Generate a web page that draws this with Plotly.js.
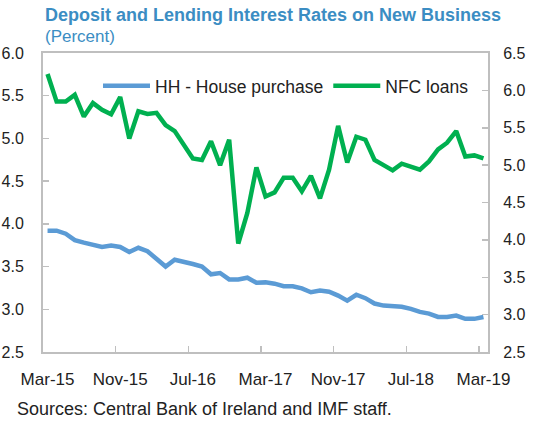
<!DOCTYPE html>
<html>
<head>
<meta charset="utf-8">
<script src="https://cdn.plot.ly/plotly-3.0.1.min.js"></script>
<style>html,body{margin:0;padding:0;background:#fff;}#chart{width:537px;height:423px;}</style>
</head>
<body>
<div id="chart"></div>
<script>
// Monthly, Mar-2015 .. Mar-2019
const months = ["Mar-15","Apr-15","May-15","Jun-15","Jul-15","Aug-15","Sep-15","Oct-15","Nov-15","Dec-15",
"Jan-16","Feb-16","Mar-16","Apr-16","May-16","Jun-16","Jul-16","Aug-16","Sep-16","Oct-16","Nov-16","Dec-16",
"Jan-17","Feb-17","Mar-17","Apr-17","May-17","Jun-17","Jul-17","Aug-17","Sep-17","Oct-17","Nov-17","Dec-17",
"Jan-18","Feb-18","Mar-18","Apr-18","May-18","Jun-18","Jul-18","Aug-18","Sep-18","Oct-18","Nov-18","Dec-18",
"Jan-19","Feb-19","Mar-19"];
const hhHouse = [3.92,3.92,3.885,3.81,3.78,3.75,3.73,3.745,3.73,3.67,3.72,3.68,3.59,3.50,3.58,3.56,3.53,3.50,3.41,3.425,3.35,3.35,3.37,3.31,3.315,
3.30,3.27,3.27,3.245,3.20,3.22,3.205,3.16,3.10,3.17,3.13,3.067,3.043,3.043,3.03,3.005,2.97,2.95,2.91,2.91,2.927,2.888,2.888,2.91];
const nfcLoans = [6.22,5.85,5.85,5.94,5.65,5.83,5.74,5.68,5.91,5.355,5.72,5.685,5.70,5.535,5.455,5.27,5.09,5.07,5.32,5.00,5.34,3.95,4.36,4.97,4.58,
4.635,4.83,4.83,4.65,4.857,4.555,4.94,5.525,5.035,5.38,5.34,5.07,5.00,4.93,5.02,4.98,4.94,5.05,5.21,5.30,5.455,5.115,5.13,5.09];
const tickLabels = ["Mar-15","Nov-15","Jul-16","Mar-17","Nov-17","Jul-18","Mar-19"];
const leftTicks = [2.5,3.0,3.5,4.0,4.5,5.0,5.5,6.0];
const rightTicks = [2.5,3.0,3.5,4.0,4.5,5.0,5.5,6.0,6.5];
const titleText = "Deposit and Lending Interest Rates on New Business";
const subtitleText = "(Percent)";
const sourceText = "Sources: Central Bank of Ireland and IMF staff.";

const idx = months.map((m,i)=>i);
const labelPos = tickLabels.map(t=>months.indexOf(t));
const tickMarkPos = labelPos.map(p=>p-0.5);
const xr = [-0.5, months.length-0.5];
const font = "Liberation Sans, Arial, sans-serif";
const axisCol = "#bfbfbf";
const txtCol = "#222";
// plot area in px: top 53, bottom 352.5, left 43, right 488
const pyTop = 53, pyBot = 352.5, pxL = 43, pxR = 488;
const py = v => (pyBot - v) / (pyBot - pyTop);
const px = v => (v - pxL) / (pxR - pxL);

const traces = [
  {x: idx, y: hhHouse, name: "HH - House purchase", type: "scatter", mode: "lines",
   line: {color: "#5b9bd5", width: 4.5}, xaxis: "x", yaxis: "y"},
  {x: idx, y: nfcLoans, name: "NFC loans", type: "scatter", mode: "lines",
   line: {color: "#00b050", width: 4.5}, xaxis: "x2", yaxis: "y2"}
];

const layout = {
  width: 537, height: 423,
  margin: {l: pxL, r: 537 - pxR, t: pyTop, b: 423 - pyBot, pad: 0},
  paper_bgcolor: "#fff", plot_bgcolor: "#fff",
  showlegend: true,
  font: {family: font, size: 16, color: txtCol},
  legend: {orientation: "h", x: px(98), xanchor: "left", y: py(86), yanchor: "middle",
    font: {family: font, size: 17.5, color: txtCol}, bgcolor: "rgba(0,0,0,0)", traceorder: "normal",
    itemwidth: 47},
  xaxis: {range: xr, tickvals: labelPos, ticktext: tickLabels, ticks: "", showgrid: false, zeroline: false,
    showline: true, linecolor: axisCol, linewidth: 2, mirror: true, ticklabelstandoff: 11,
    tickfont: {family: font, size: 17, color: txtCol}, fixedrange: true},
  xaxis2: {range: xr, overlaying: "x", side: "bottom", tickvals: tickMarkPos, ticks: "inside", ticklen: 6,
    tickcolor: axisCol, tickwidth: 1.5, showticklabels: false, showgrid: false, zeroline: false, showline: false},
  yaxis: {range: [2.5, 6.0], tickvals: leftTicks, tickformat: ".1f", ticks: "inside", ticklen: 6, tickcolor: axisCol,
    tickwidth: 1.5, showgrid: false, zeroline: false, showline: true, linecolor: axisCol, linewidth: 2,
    ticklabelstandoff: 14, tickfont: {family: font, size: 16, color: txtCol}},
  yaxis2: {range: [2.5, 6.5], tickvals: rightTicks, tickformat: ".1f", overlaying: "y", side: "right", ticks: "inside",
    ticklen: 6, tickcolor: axisCol, tickwidth: 1.5, showgrid: false, zeroline: false, showline: true,
    linecolor: axisCol, linewidth: 2, ticklabelstandoff: 10, tickfont: {family: font, size: 16, color: txtCol}},
  annotations: [
    {text: "<b>" + titleText + "</b>", xref: "paper", yref: "paper", x: px(43), xanchor: "left",
     y: py(15), yanchor: "middle", showarrow: false,
     font: {family: "Liberation Sans Narrow, Liberation Sans, Arial, sans-serif", size: 18, color: "#3b8dc3"}},
    {text: subtitleText, xref: "paper", yref: "paper", x: px(43), xanchor: "left",
     y: py(36), yanchor: "middle", showarrow: false,
     font: {family: "Liberation Sans Narrow, Liberation Sans, Arial, sans-serif", size: 17, color: "#3b8dc3"}},
    {text: sourceText, xref: "paper", yref: "paper", x: px(15), xanchor: "left",
     y: py(410), yanchor: "middle", showarrow: false,
     font: {family: font, size: 18, color: txtCol}}
  ]
};

Plotly.newPlot("chart", traces, layout, {displayModeBar: false, staticPlot: true});
</script>
</body>
</html>
